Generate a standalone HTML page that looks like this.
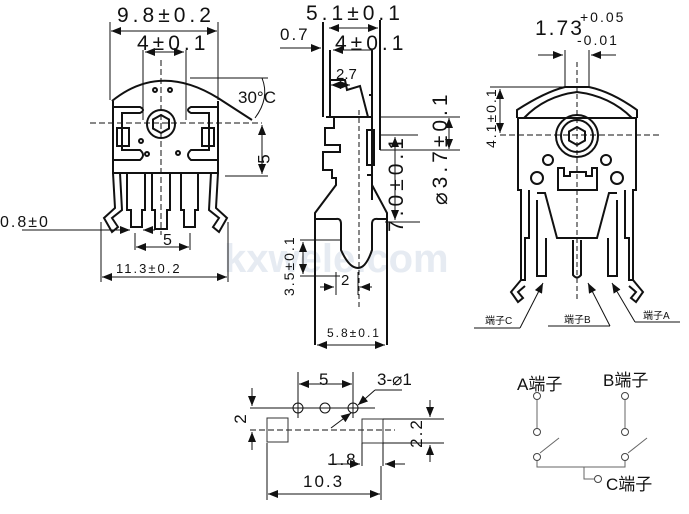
<!DOCTYPE html>
<html><head><meta charset="utf-8">
<style>
html,body{margin:0;padding:0;background:#fff;}
svg{display:block;}
text{font-family:"Liberation Sans","Noto Sans CJK SC",sans-serif;fill:#111;}
.w{letter-spacing:4px;}
.w2{letter-spacing:2px;}
</style></head>
<body>
<svg width="689" height="514" viewBox="0 0 689 514" xmlns="http://www.w3.org/2000/svg">
<defs>
<marker id="a" markerWidth="10" markerHeight="8" refX="10" refY="4" orient="auto" markerUnits="userSpaceOnUse"><path d="M0,0 L10,4 L0,8z" fill="#111"/></marker>
<marker id="b" markerWidth="10" markerHeight="8" refX="0" refY="4" orient="auto" markerUnits="userSpaceOnUse"><path d="M10,0 L0,4 L10,8z" fill="#111"/></marker>
</defs>
<text x="224" y="272" font-size="40" style="fill:#e6ebf2" font-weight="bold">kxwele.com</text>

<g stroke="#111" fill="none" stroke-width="1">
<line x1="110" y1="22" x2="110" y2="100"/><line x1="218" y1="22" x2="218" y2="100"/>
<line x1="111" y1="31" x2="217" y2="31" marker-start="url(#b)" marker-end="url(#a)"/>
<line x1="143" y1="50" x2="143" y2="120"/><line x1="186" y1="50" x2="186" y2="120"/>
<line x1="145" y1="52" x2="175" y2="52" marker-start="url(#b)"/>
<line x1="165" y1="52" x2="184" y2="52" marker-end="url(#a)"/>
<path d="M112,101 Q160,62 218,98 L252,120" stroke-width="2"/>
<line x1="190" y1="78" x2="268" y2="78"/>
<path d="M262,78 Q270,98 255,118"/>
<line x1="90" y1="123" x2="262" y2="123" stroke-dasharray="6,3"/>
<line x1="161" y1="60" x2="161" y2="235" stroke-dasharray="6,3"/>
<line x1="225" y1="176" x2="268" y2="176"/>
<line x1="262" y1="125" x2="262" y2="174" marker-start="url(#b)" marker-end="url(#a)"/>
<g stroke-width="2">
<path d="M113,101 L113,173 L218,173 L218,101"/>
<path d="M113,107 L140,107 Q146,110 140,113 L122,113 L122,150 L140,150 Q146,155 140,160 L113,160"/>
<path d="M218,107 L191,107 Q185,110 191,113 L209,113 L209,150 L191,150 Q185,155 191,160 L218,160"/>
<rect x="117" y="128" width="12" height="18"/><rect x="202" y="128" width="12" height="18"/>
<circle cx="161" cy="124" r="14"/>
<path d="M161,115 L169,119.5 L169,128.5 L161,133 L153,128.5 L153,119.5z"/>
<circle cx="155" cy="90" r="2"/><circle cx="170" cy="90" r="2"/>
<circle cx="141" cy="141" r="2"/><circle cx="147" cy="154" r="2"/><circle cx="178" cy="153" r="2"/>
<path d="M127,173 L127,210 L131,210 L131,227 L142,227 L142,210 L145,210 L145,173"/>
<path d="M152,173 L152,210 L155,210 L155,229 L167,229 L167,210 L170,210 L170,173"/>
<path d="M181,173 L181,210 L184,210 L184,227 L195,227 L195,210 L198,210 L198,173"/>
<path d="M113,173 L115,208 L104,218 L112,232 L118,227 L112,218 L122,210 L120,173"/>
<path d="M218,173 L216,208 L227,218 L219,232 L213,227 L219,218 L209,210 L211,173"/>
</g>
<line x1="22" y1="230" x2="130" y2="230" marker-end="url(#a)"/>
<line x1="155" y1="230" x2="143" y2="230" marker-end="url(#a)"/>
<line x1="135" y1="233" x2="135" y2="250"/><line x1="190" y1="233" x2="190" y2="250"/>
<line x1="136" y1="247" x2="189" y2="247" marker-start="url(#b)" marker-end="url(#a)"/>
<line x1="101" y1="222" x2="101" y2="282"/><line x1="228" y1="222" x2="228" y2="282"/>
<line x1="102" y1="277" x2="227" y2="277" marker-start="url(#b)" marker-end="url(#a)"/>

<line x1="323" y1="22" x2="323" y2="117" stroke-width="2"/>
<line x1="380" y1="20" x2="380" y2="150" stroke-width="2"/>
<line x1="329" y1="28" x2="378" y2="28" marker-start="url(#b)" marker-end="url(#a)"/>
<line x1="280" y1="48" x2="321" y2="48" marker-end="url(#a)"/>
<line x1="333" y1="50" x2="372" y2="50" marker-start="url(#b)"/>
<line x1="331" y1="85" x2="350" y2="85" marker-start="url(#b)" marker-end="url(#a)"/>
<line x1="359" y1="110" x2="359" y2="310" stroke-dasharray="5,3"/>
<g stroke-width="2">
<path d="M330,50 L330,117 M372,50 L372,117"/>
<path d="M331,80 L345,80 L347,90 L360,86 L368,117"/>
<path d="M369,95 L372,95"/>
<path d="M326,117 L372,117"/>
<path d="M334,117 L334,128 L325,128 L325,145 L340,145 L340,152 L323,152 L323,170 L332,170 L332,178 L336,178 L336,185 L315,213 L315,345"/>
<path d="M372,117 L372,185 L387,213 L387,345"/>
<path d="M367,130 L374,130 L374,165 L367,165z"/>
<path d="M367,175 L372,175 L372,200"/>
<path d="M315,219 L336,219 Q341,218 341,224 L341,250 Q349,268 358,268 Q366,268 372,250 L372,224 Q372,218 378,219 L387,219"/>
</g>
<line x1="380" y1="117" x2="460" y2="117"/><line x1="380" y1="150" x2="460" y2="150"/>
<line x1="380" y1="135" x2="418" y2="135"/>
<line x1="449" y1="118" x2="449" y2="149" marker-start="url(#b)" marker-end="url(#a)"/>
<line x1="395" y1="137" x2="395" y2="220" marker-start="url(#b)" marker-end="url(#a)"/>
<line x1="385" y1="222" x2="420" y2="222"/>
<line x1="300" y1="240" x2="340" y2="240"/><line x1="300" y1="276" x2="340" y2="276"/>
<line x1="303" y1="242" x2="303" y2="274" marker-start="url(#b)" marker-end="url(#a)"/>
<line x1="336" y1="272" x2="336" y2="295"/><line x1="358" y1="272" x2="358" y2="295"/>
<line x1="320" y1="287" x2="334" y2="287" marker-end="url(#a)"/>
<line x1="372" y1="287" x2="360" y2="287" marker-end="url(#a)"/>
<line x1="317" y1="345" x2="385" y2="345" marker-start="url(#b)" marker-end="url(#a)"/>

<line x1="565" y1="50" x2="565" y2="88"/><line x1="589" y1="50" x2="589" y2="88"/>
<line x1="538" y1="55" x2="563" y2="55" marker-end="url(#a)"/>
<line x1="616" y1="55" x2="591" y2="55" marker-end="url(#a)"/>
<line x1="490" y1="87" x2="570" y2="87"/>
<line x1="500" y1="89" x2="500" y2="133" marker-start="url(#b)" marker-end="url(#a)"/>
<line x1="500" y1="135" x2="660" y2="135" stroke-dasharray="6,3"/>
<line x1="577" y1="62" x2="577" y2="300" stroke-dasharray="5,3"/>
<g stroke-width="2">
<path d="M517,118 L517,110 Q545,92 565,87 L589,87 Q612,92 637,110 L637,118"/>
<path d="M524,118 Q545,96 577,92 Q610,96 632,118"/>
<path d="M517,118 L637,118"/>
<path d="M518,118 L518,190 L521,190 L521,280 L525,280 L525,238 L529,238 L529,190"/>
<path d="M636,118 L636,190 L633,190 L633,280 L629,280 L629,238 L625,238 L625,190"/>
<circle cx="577" cy="136" r="21"/><circle cx="577" cy="136" r="16"/>
<path d="M577,127 L585,131.5 L585,140.5 L577,145 L569,140.5 L569,131.5z"/>
<circle cx="548" cy="160" r="5"/><circle cx="606" cy="160" r="5"/>
<circle cx="537" cy="178" r="6"/><circle cx="617" cy="178" r="6"/>
<path d="M558,168 L558,190 L597,190 L597,168 L592,168 L592,176 L586,176 L586,172 L570,172 L570,176 L564,176 L564,168z"/>
<path d="M537,193 L545,193 L557,238 L597,238 L609,193 L617,193"/>
<path d="M537,200 L537,276 L546,276 L546,238 M617,200 L617,276 L608,276 L608,238"/>
<path d="M573,240 L573,275 Q577,280 581,275 L581,240"/>
<path d="M521,280 L511,292 L518,302 L523,298 L518,292 L525,286"/>
<path d="M633,280 L643,292 L636,302 L631,298 L636,292 L629,286"/>
</g>
<line x1="520" y1="328" x2="543" y2="283" marker-end="url(#a)"/>
<line x1="548" y1="326" x2="610" y2="326"/><line x1="610" y1="326" x2="588" y2="283" marker-end="url(#a)"/>
<line x1="635" y1="322" x2="612" y2="283" marker-end="url(#a)"/>
<line x1="635" y1="322" x2="680" y2="322"/>
<line x1="474" y1="328" x2="520" y2="328"/>

<line x1="298" y1="372" x2="298" y2="418"/><line x1="353" y1="372" x2="353" y2="418"/>
<line x1="299" y1="384" x2="352" y2="384" marker-start="url(#b)" marker-end="url(#a)"/>
<line x1="250" y1="408" x2="375" y2="408"/>
<circle cx="298" cy="408" r="5"/><circle cx="325" cy="408" r="5"/><circle cx="353" cy="408" r="5"/>
<line x1="375" y1="390" x2="358" y2="405" marker-end="url(#a)"/>
<line x1="375" y1="390" x2="402" y2="390"/>
<line x1="331" y1="428" x2="351" y2="413" marker-end="url(#a)"/>
<line x1="252" y1="388" x2="252" y2="406" marker-end="url(#a)"/>
<line x1="252" y1="450" x2="252" y2="432" marker-end="url(#a)"/>
<line x1="250" y1="430" x2="395" y2="430" stroke-dasharray="6,3"/>
<rect x="267" y="418" width="21" height="24" stroke="#333"/>
<rect x="362" y="419" width="21" height="24" stroke="#333"/>
<line x1="362" y1="443" x2="362" y2="466"/><line x1="383" y1="443" x2="383" y2="466"/>
<line x1="383" y1="419" x2="444" y2="419"/><line x1="383" y1="443" x2="444" y2="443"/>
<line x1="430" y1="400" x2="430" y2="417" marker-end="url(#a)"/>
<line x1="430" y1="462" x2="430" y2="445" marker-end="url(#a)"/>
<line x1="328" y1="464" x2="360" y2="464" marker-end="url(#a)"/>
<line x1="405" y1="464" x2="385" y2="464" marker-end="url(#a)"/>
<line x1="267" y1="443" x2="267" y2="500"/><line x1="381" y1="466" x2="381" y2="500"/>
<line x1="268" y1="494" x2="380" y2="494" marker-start="url(#b)" marker-end="url(#a)"/>

<line x1="537" y1="400" x2="537" y2="432" stroke="#666"/>
<line x1="625" y1="400" x2="625" y2="432" stroke="#666"/>
<line x1="540" y1="453" x2="559" y2="438" stroke="#666"/>
<line x1="628" y1="453" x2="647" y2="438" stroke="#666"/>
<path d="M537,460 L537,467 L625,467 L625,460" stroke="#666"/>
<path d="M584,467 L584,479 L594,479" stroke="#666"/>
<g stroke="#444" fill="#fff">
<circle cx="537" cy="396" r="3.5"/><circle cx="537" cy="432" r="3.5"/><circle cx="537" cy="457" r="3.5"/>
<circle cx="625" cy="396" r="3.5"/><circle cx="625" cy="432" r="3.5"/><circle cx="625" cy="457" r="3.5"/>
<circle cx="598" cy="479" r="3.5"/>
</g>
</g>

<text x="117" y="22" font-size="21" class="w">9.8±0.2</text>
<text x="137" y="50" font-size="21" class="w">4±0.1</text>
<text x="238" y="103" font-size="17">30°C</text>
<text x="265" y="159" font-size="17" transform="rotate(-90 265 159)" text-anchor="middle" dominant-baseline="middle">5</text>
<text x="0" y="227" font-size="16" class="w2">0.8±0</text>
<text x="163" y="245" font-size="16">5</text>
<text x="116" y="273" font-size="13" class="w2">11.3±0.2</text>

<text x="306" y="20" font-size="21" class="w">5.1±0.1</text>
<text x="280" y="40" font-size="17" class="w2">0.7</text>
<text x="335" y="50" font-size="21" class="w">4±0.1</text>
<text x="336" y="79" font-size="15">2.7</text>
<text x="403" y="232" font-size="21" transform="rotate(-90 403 232)" class="w">7.0±0.1</text>
<text x="447" y="205" font-size="21" transform="rotate(-90 447 205)" class="w">⌀3.7±0.1</text>
<text x="294" y="296" font-size="14" transform="rotate(-90 294 296)" class="w2">3.5±0.1</text>
<text x="341" y="285" font-size="15">2</text>
<text x="327" y="337" font-size="12" class="w2">5.8±0.1</text>

<text x="535" y="35" font-size="21" class="w2">1.73</text>
<text x="580" y="22" font-size="14" class="w2">+0.05</text>
<text x="577" y="45" font-size="14" class="w2">-0.01</text>
<text x="496" y="148" font-size="14" transform="rotate(-90 496 148)" class="w2">4.1±0.1</text>
<text x="485" y="324" font-size="10">端子C</text>
<text x="564" y="323" font-size="10">端子B</text>
<text x="643" y="319" font-size="10">端子A</text>

<text x="319" y="385" font-size="17">5</text>
<text x="377" y="385" font-size="17">3-⌀1</text>
<text x="246" y="419" font-size="17" transform="rotate(-90 246 419)" text-anchor="middle">2</text>
<text x="422" y="433" font-size="17" transform="rotate(-90 422 433)" text-anchor="middle" class="w2">2.2</text>
<text x="328" y="465" font-size="17" class="w2">1.8</text>
<text x="303" y="487" font-size="17" class="w2">10.3</text>

<text x="517" y="390" font-size="17">A端子</text>
<text x="603" y="386" font-size="17">B端子</text>
<text x="606" y="490" font-size="17">C端子</text>
</svg>
</body></html>
